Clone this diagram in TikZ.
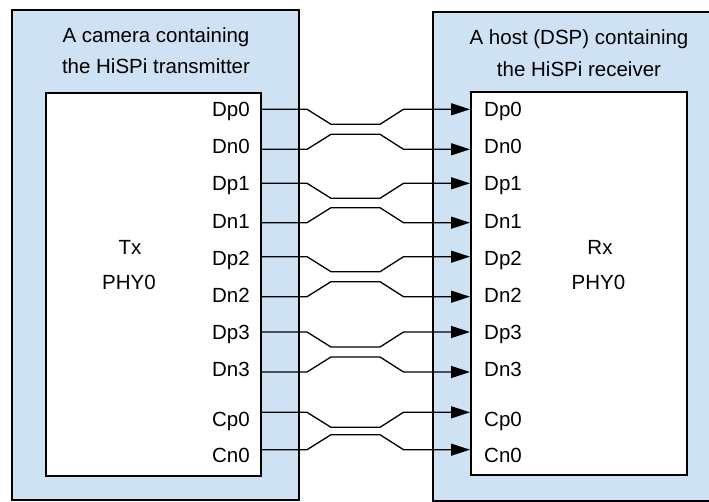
\documentclass[tikz,border=0pt]{standalone}
\usepackage{fontspec}
\setmainfont{Liberation Sans}
\usetikzlibrary{arrows.meta}
\definecolor{boxblue}{RGB}{207,226,243}
\tikzset{
  outerbox/.style={draw=black, fill=boxblue, line width=2pt, inner sep=0pt, outer sep=0pt},
  innerbox/.style={draw=black, fill=white, line width=2pt, inner sep=0pt, outer sep=0pt},
  wire/.style={draw=black, line width=1.3pt, line join=miter},
  sig/.style={-{Triangle[length=19pt,width=12pt]}, shorten >=1pt},
  txt/.style={font=\fontsize{20.5}{24}\selectfont, inner sep=0pt, text=black},
}
\begin{document}
\begin{tikzpicture}[x=1pt, y=-1pt]
\useasboundingbox (0,0) rectangle (709,502);
% outer boxes
\node[outerbox, minimum width=286.7pt, minimum height=490pt] (cam) at (155.35,255) {};
\node[outerbox, minimum width=292pt, minimum height=489pt] (host) at (579,256.2) {};
% inner boxes
\node[innerbox, minimum width=215pt, minimum height=382.5pt] (txin) at (153.2,284.25) {};
\node[innerbox, minimum width=215.7pt, minimum height=382.2pt] (rxin) at (578.85,283.4) {};
% titles
\node[txt, anchor=base] (camt1) at (156,43) {A camera containing};
\node[txt, anchor=base] (camt2) at (156,74) {the HiSPi transmitter};
\node[txt, anchor=base] (hostt1) at (579,45) {A host (DSP) containing};
\node[txt, anchor=base] (hostt2) at (579,76.5) {the HiSPi receiver};
% block names
\node[txt, anchor=base] (tx) at (130,255) {Tx};
\node[txt, anchor=base] (txphy) at (129,290) {PHY0};
\node[txt, anchor=base] (rx) at (600,255) {Rx};
\node[txt, anchor=base] (rxphy) at (598.5,289.5) {PHY0};
% pin labels
\foreach \lab/\yb [count=\i] in {Dp0/116.8, Dn0/153.9, Dp1/191, Dn1/228.1, Dp2/265.2, Dn2/302.3, Dp3/339.4, Dn3/376.5, Cp0/426, Cn0/462} {
  \node[txt, anchor=base east] (tl\i) at (250,\yb) {\lab};
  \node[txt, anchor=base west] (rl\i) at (484,\yb) {\lab};
}
% differential pairs
\foreach \p/\n [count=\i] in {109.3/149.3, 183.3/222.7, 256.7/296.7, 332/372, 412.3/449.7} {
  \coordinate (wp\i) at (0,\p);
  \coordinate (wn\i) at (0,\n);
  \draw[wire, sig] (txin.east |- wp\i) -- (307,\p) -- (331,\p+15) -- (380,\p+15) -- (403.5,\p) -- (rxin.west |- wp\i);
  \draw[wire, sig] (txin.east |- wn\i) -- (307,\n) -- (331,\n-15) -- (380,\n-15) -- (403.5,\n) -- (rxin.west |- wn\i);
}
\end{tikzpicture}
\end{document}
